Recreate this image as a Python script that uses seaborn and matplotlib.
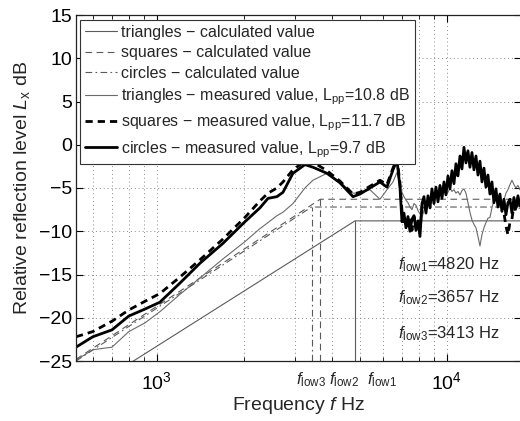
import matplotlib
matplotlib.use("Agg")
import numpy as np
import pandas as pd
import seaborn as sns
import matplotlib.pyplot as plt
import matplotlib.ticker as mticker

# frecuencias de medida (Hz)
freq_hz = [526, 601, 700, 800, 909, 1024, 1200, 1407, 1689, 2011, 2265, 2415, 2593, 2720,
           2944, 3238, 3451, 3857, 4276, 4742, 5012, 5426, 5875, 6210, 6514, 6725,
           6886, 6996, 7108, 7222, 7338, 7456, 7575, 7697, 7820, 7943, 8072,
           8201, 8332, 8466, 8601, 8739, 8879, 9021, 9165, 9312, 9460,
           9611, 9765, 9921, 10080, 10241, 10405, 10572, 10740, 10912, 11087,
           11264, 11444, 11627, 11813, 12002, 12194, 12389, 12589, 12790, 12994,
           13202, 13413, 13628, 13846, 14067, 14292, 14521, 14753, 14989, 15229,
           15472, 15720, 15971, 16227, 16486, 16750, 17018, 17290, 17567, 17848]

# valores medidos (dB)
triangles_meas = [-24.9, -23.7, -23.4, -21.6, -20.6, -19.3, -17.3, -15.4, -13.2, -11.2, -9.7, -9.0, -8.2, -7.8,
                  -6.8, -5.0, -4.1, -3.3, -4.3, -5.6, -5.6, -5.2, -6.3, -5.2, -4.3, -3.2,
                  -4.6, -5.5, -6.0, -6.4, -6.7, -7.2, -7.5, -6.8, -7.0, -7.6, -8.0,
                  -8.4, -7.6, -7.2, -6.8, -6.2, -5.9, -5.6, -6.1, -5.4, -5.5,
                  -5.9, -5.3, -5.7, -5.5, -5.0, -5.4, -5.2, -5.6, -5.4, -5.8,
                  -5.3, -5.1, -5.6, -6.7, -7.8, -8.7, -9.2, -9.6, -10.6, -11.7,
                  -10.4, -9.6, -9.0, -8.5, -8.4, -7.3, -6.4, -6.0, -5.8, -6.4,
                  -7.0, -6.4, -5.6, -5.2, -4.6, -4.1, -4.6, -5.0, -4.7, -5.2]
squares_meas = [-22.2, -21.6, -20.4, -19.1, -18.1, -17.2, -15.3, -13.3, -10.9, -8.4, -6.5, -5.6, -5.0, -4.3,
                -2.9, -1.9, -2.0, -3.0, -4.2, -5.7, -5.5, -4.8, -4.1, -4.6, -2.7, -1.6,
                -4.4, -7.6, -8.9, -8.4, -9.6, -8.7, -9.9, -8.3, -9.5, -9.4, -9.8,
                -7.3, -7.1, -6.7, -6.9, -6.1, -6.2, -5.6, -6.0, -5.4, -5.8,
                -5.1, -5.4, -4.8, -4.7, -4.1, -4.3, -3.4, -3.5, -2.5, -2.4,
                -1.5, -1.2, -0.6, -1.7, -1.4, -2.0, -1.7, -2.5, -2.3, -3.1,
                -3.0, -3.9, -3.9, -4.7, -4.6, -5.6, -5.5, -6.4, -6.2, -6.9,
                -7.0, -7.9, -9.4, -10.4, -9.0, -8.6, -7.0, -7.7, -6.6, -7.4]
circles_meas = [-23.4, -22.2, -21.4, -19.8, -19.0, -18.2, -16.0, -13.7, -11.4, -8.9, -7.3, -6.2, -6.0, -5.5,
                -3.3, -2.3, -2.6, -3.3, -4.4, -6.0, -5.7, -5.0, -4.3, -4.9, -2.9, -1.8,
                -4.9, -8.9, -7.9, -9.6, -8.3, -10.0, -8.6, -8.2, -9.9, -8.8, -10.6,
                -6.8, -6.0, -7.9, -5.9, -7.3, -5.1, -6.8, -4.9, -6.6, -4.7,
                -6.2, -4.3, -5.8, -3.6, -5.1, -3.0, -4.5, -2.2, -3.6, -1.3,
                -2.8, -0.3, -2.1, -0.7, -2.6, -0.9, -2.9, -1.3, -3.5, -1.9,
                -4.3, -2.7, -4.9, -3.5, -5.7, -4.3, -6.7, -5.1, -7.2, -5.7,
                -7.7, -6.3, -8.1, -6.7, -6.3, -7.9, -6.1, -7.3, -5.9, -7.1]

# valores calculados: triangulos, cuadrados, circulos
f_low = [4820, 3657, 3413]
calc_start_hz = 526
calc_end_hz = 17848
calc_start_db = [-29.2, -24.8, -25.0]
calc_flat_db = [-8.8, -6.3, -7.2]
lpp = [10.8, 11.7, 9.7]
nombres = ["triangles", "squares", "circles"]

sns.set_style("ticks")
plt.rcParams["font.family"] = ["Liberation Sans", "DejaVu Sans"]
plt.rcParams["mathtext.fontset"] = "custom"
plt.rcParams["mathtext.rm"] = "Liberation Sans"
plt.rcParams["mathtext.it"] = "Liberation Sans:italic"
plt.rcParams["mathtext.bf"] = "Liberation Sans:bold"

fig = plt.figure(figsize=(5.2, 4.21), dpi=100)
ax = fig.add_axes([76 / 520, 60 / 421, 445 / 520, 346 / 421])

gris = "#5a5a5a"
estilos_calc = ["-", (0, (6, 4)), (0, (6, 3, 1.5, 3))]

# curvas calculadas
for i in range(3):
    df_c = pd.DataFrame({"f": [calc_start_hz, f_low[i], calc_end_hz],
                         "L": [calc_start_db[i], calc_flat_db[i], calc_flat_db[i]]})
    sns.lineplot(data=df_c, x="f", y="L", ax=ax, color=gris, linewidth=0.8,
                 linestyle=estilos_calc[i], estimator=None, sort=False,
                 label=f"{nombres[i]} \u2212 calculated value")

# curvas medidas
medidas = [triangles_meas, squares_meas, circles_meas]
estilos_meas = ["-", (0, (2.6, 1.8)), "-"]
colores_meas = ["#6a6a6a", "black", "black"]
anchos_meas = [0.8, 2.0, 2.0]
for i in range(3):
    df_m = pd.DataFrame({"f": freq_hz, "L": medidas[i]})
    sns.lineplot(data=df_m, x="f", y="L", ax=ax, color=colores_meas[i],
                 linewidth=anchos_meas[i], linestyle=estilos_meas[i],
                 estimator=None, sort=False,
                 label=f"{nombres[i]} \u2212 measured value, L$_{{\\rm pp}}$={lpp[i]} dB")

# lineas verticales en f_low
for i in range(3):
    ax.plot([f_low[i], f_low[i]], [-25, calc_flat_db[i]], color=gris, lw=0.8,
            linestyle=estilos_calc[i])

ax.set_xscale("log")
ax.set_xlim(526, 18000)
ax.set_ylim(-25, 15)
ax.set_yticks(range(-25, 16, 5))
ax.yaxis.set_major_formatter(mticker.FuncFormatter(lambda v, p: f"{int(v)}".replace("-", "\u2212")))
ax.xaxis.set_minor_formatter(mticker.NullFormatter())

ax.grid(True, which="major", linestyle=(0, (1, 3)), color="#8a8a8a", linewidth=0.7)
ax.grid(True, which="minor", axis="x", linestyle=(0, (1, 3)), color="#8a8a8a", linewidth=0.7)
ax.tick_params(which="both", direction="in", top=True, right=True, labelsize=14, colors="black")
ax.tick_params(which="major", length=5, width=0.8)
ax.tick_params(which="minor", length=3, width=0.6)
ax.tick_params(axis="x", pad=7)
ax.tick_params(axis="y", pad=3)
for s in ax.spines.values():
    s.set_linewidth(0.9)
    s.set_color("#222222")

ax.set_xlabel(r"Frequency $f$ Hz", fontsize=14, labelpad=2)
ax.set_ylabel(r"Relative reflection level $L_{\rm x}$ dB", fontsize=14, labelpad=5)

# etiquetas f_low bajo el eje
pos_etiquetas_hz = [3400, 4410, 5970]
etiquetas = [r"$f_{\rm low3}$", r"$f_{\rm low2}$", r"$f_{\rm low1}$"]
for xp, t in zip(pos_etiquetas_hz, etiquetas):
    ax.text(xp, -0.055, t, transform=ax.get_xaxis_transform(), ha="center", va="center",
            fontsize=12)

# anotaciones
anot_y = [-13.9, -17.7, -21.8]
for i in range(3):
    ax.text(6770, anot_y[i], rf"$f_{{\rm low{i + 1}}}$={f_low[i]} Hz", ha="left", va="center",
            fontsize=12)

leg = ax.legend(loc="upper left", bbox_to_anchor=(4 / 445, 1 - 5 / 346), borderaxespad=0,
                fontsize=11.5, frameon=True, fancybox=False, framealpha=1, edgecolor="#333333",
                handlelength=2.0, handletextpad=0.25, labelspacing=0.35, borderpad=0.3)
leg.get_frame().set_linewidth(0.8)

fig.savefig("out.png", dpi=100)
